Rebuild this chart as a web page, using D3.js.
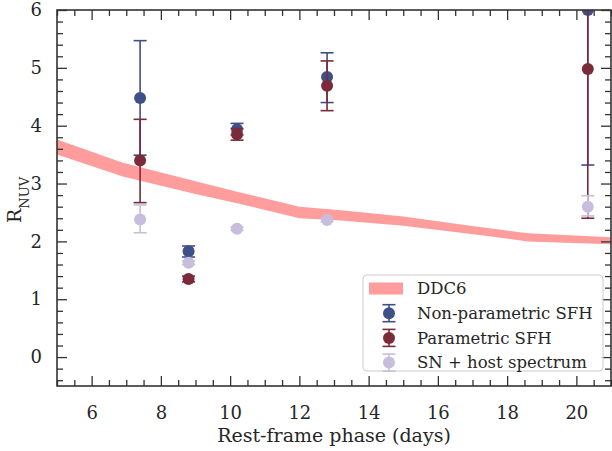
<!DOCTYPE html>
<html>
<head>
<meta charset="utf-8">
<script src="https://cdn.jsdelivr.net/npm/d3@7"></script>
<style>
  body { margin: 0; background: #fff; }
  svg { display: block; }
  text { font-family: "DejaVu Serif", "Liberation Serif", serif; fill: #262626; }
</style>
</head>
<body>
<svg id="chart"></svg>
<script>
// DDC6 model band (lower / upper edge)
var ddcPhase = [5, 6.9, 9.0, 10.2, 12.0, 13.2, 15.0, 17.2, 18.6, 21];
var ddcLow   = [3.50, 3.12, 2.82, 2.66, 2.40, 2.36, 2.27, 2.11, 2.00, 1.95];
var ddcHigh  = [3.76, 3.36, 3.04, 2.86, 2.60, 2.54, 2.43, 2.25, 2.14, 2.07];

// measured points
var phase      = [7.4, 8.8, 10.2, 12.8, 20.33];
var nonParam   = [4.48, 1.83, 3.94, 4.84, 6.00];
var nonParamLo = [3.49, 1.73, 3.84, 4.40, 3.32];
var nonParamHi = [5.47, 1.92, 4.04, 5.26, 8.68];
var param      = [3.40, 1.35, 3.85, 4.69, 4.98];
var paramLo    = [2.67, 1.30, 3.75, 4.26, 2.40];
var paramHi    = [4.11, 1.40, 3.95, 5.12, 7.56];
var snHost     = [2.38, 1.63, 2.22, 2.37, 2.60];
var snHostLo   = [2.15, 1.60, 2.19, 2.34, 2.44];
var snHostHi   = [2.63, 1.66, 2.25, 2.40, 2.79];

var seriesNames = ["Non-parametric SFH", "Parametric SFH", "SN + host spectrum"];
var bandName = "DDC6";

var xTicks = [6, 8, 10, 12, 14, 16, 18, 20];
var yTicks = [0, 1, 2, 3, 4, 5, 6];
var xLabel = "Rest-frame phase (days)";

var fontStack = '"DejaVu Serif", "Liberation Serif", serif';

function drawChart(id){
    var svgWidth = 612;
    var svgHeight = 451;
    var left = 57, right = 611, top = 10, bottom = 386;
    var colorArr = ["#3f5088", "#7a2a39", "#c8bddd"];
    var bandColor = "#ff9c9c";
    var axisColor = "#333333";

    var svg = d3.select(id)
        .attr("width", svgWidth)
        .attr("height", svgHeight);

    var x = d3.scaleLinear().domain([5, 21]).range([left, right]);
    var y = d3.scaleLinear().domain([-0.5, 6]).range([bottom, top]);

    svg.append("clipPath").attr("id", "plotclip")
        .append("rect")
        .attr("x", left).attr("y", top)
        .attr("width", right - left).attr("height", bottom - top);

    var plot = svg.append("g").attr("clip-path", "url(#plotclip)");

    // model band
    var band = ddcPhase.map(function(p, i){ return {p: p, lo: ddcLow[i], hi: ddcHigh[i]}; });
    plot.append("path")
        .datum(band)
        .attr("fill", bandColor)
        .attr("d", d3.area()
            .x(function(d){ return x(d.p); })
            .y0(function(d){ return y(d.lo); })
            .y1(function(d){ return y(d.hi); }));

    var series = [
        {v: nonParam, lo: nonParamLo, hi: nonParamHi},
        {v: param, lo: paramLo, hi: paramHi},
        {v: snHost, lo: snHostLo, hi: snHostHi}
    ];
    var cap = 6.5;

    series.forEach(function(s, k){
        var pts = phase.map(function(p, i){ return {p: p, v: s.v[i], lo: s.lo[i], hi: s.hi[i]}; });
        var g = plot.append("g")
            .attr("stroke", colorArr[k])
            .attr("stroke-width", 1.6);
        var eb = g.selectAll("g").data(pts).enter().append("g");
        eb.append("line")
            .attr("x1", function(d){ return x(d.p); })
            .attr("x2", function(d){ return x(d.p); })
            .attr("y1", function(d){ return y(d.lo); })
            .attr("y2", function(d){ return y(d.hi); });
        eb.append("line")
            .attr("x1", function(d){ return x(d.p) - cap; })
            .attr("x2", function(d){ return x(d.p) + cap; })
            .attr("y1", function(d){ return y(d.lo); })
            .attr("y2", function(d){ return y(d.lo); });
        eb.append("line")
            .attr("x1", function(d){ return x(d.p) - cap; })
            .attr("x2", function(d){ return x(d.p) + cap; })
            .attr("y1", function(d){ return y(d.hi); })
            .attr("y2", function(d){ return y(d.hi); });
        eb.append("circle")
            .attr("cx", function(d){ return x(d.p); })
            .attr("cy", function(d){ return y(d.v); })
            .attr("r", 6)
            .attr("stroke", "none")
            .attr("fill", colorArr[k]);
    });

    // axes, ticks pointing inward on all four sides
    var xMinor = d3.range(5, 21.01, 0.5).filter(function(t){ return t % 2 !== 0; });
    var yMinor = d3.range(-0.4, 6, 0.2).filter(function(t){ return Math.abs(t - Math.round(t)) > 0.01; });

    function styleAxis(g){
        g.select(".domain").remove();
        g.selectAll(".tick line").attr("stroke", axisColor).attr("stroke-width", 1.3);
        g.selectAll(".tick text")
            .attr("fill", "#262626")
            .attr("font-family", null)
            .style("font-family", fontStack)
            .style("font-size", "18px");
    }

    svg.append("g").attr("transform", "translate(0," + bottom + ")")
        .call(d3.axisBottom(x).tickValues(xTicks).tickSize(-10).tickPadding(20).tickFormat(d3.format("d")))
        .call(styleAxis);
    svg.append("g").attr("transform", "translate(0," + bottom + ")")
        .call(d3.axisBottom(x).tickValues(xMinor).tickSize(-6).tickFormat(""))
        .call(styleAxis);
    svg.append("g").attr("transform", "translate(0," + top + ")")
        .call(d3.axisTop(x).tickValues(xTicks).tickSize(-10).tickFormat(""))
        .call(styleAxis);
    svg.append("g").attr("transform", "translate(0," + top + ")")
        .call(d3.axisTop(x).tickValues(xMinor).tickSize(-6).tickFormat(""))
        .call(styleAxis);

    svg.append("g").attr("transform", "translate(" + left + ",0)")
        .call(d3.axisLeft(y).tickValues(yTicks).tickSize(-10).tickPadding(15).tickFormat(d3.format("d")))
        .call(styleAxis);
    svg.append("g").attr("transform", "translate(" + left + ",0)")
        .call(d3.axisLeft(y).tickValues(yMinor).tickSize(-6).tickFormat(""))
        .call(styleAxis);
    svg.append("g").attr("transform", "translate(" + right + ",0)")
        .call(d3.axisRight(y).tickValues(yTicks).tickSize(-10).tickFormat(""))
        .call(styleAxis);
    svg.append("g").attr("transform", "translate(" + right + ",0)")
        .call(d3.axisRight(y).tickValues(yMinor).tickSize(-6).tickFormat(""))
        .call(styleAxis);

    // frame
    svg.append("rect")
        .attr("x", left).attr("y", top)
        .attr("width", right - left).attr("height", bottom - top)
        .attr("fill", "none")
        .attr("stroke", axisColor)
        .attr("stroke-width", 1.6);

    // axis titles
    svg.append("text")
        .attr("x", (left + right) / 2)
        .attr("y", 442)
        .attr("text-anchor", "middle")
        .style("font-size", "19px")
        .text(xLabel);

    var yl = svg.append("text")
        .attr("transform", "translate(21,200) rotate(-90)")
        .attr("text-anchor", "middle")
        .style("font-size", "19px");
    yl.append("tspan").text("R");
    yl.append("tspan").attr("baseline-shift", "sub").style("font-size", "13px").text("NUV");

    // legend
    var lx = 363, ly = 275;
    var legend = svg.append("g");
    legend.append("rect")
        .attr("x", lx).attr("y", ly)
        .attr("width", 240).attr("height", 96)
        .attr("rx", 4)
        .attr("fill", "#fff").attr("fill-opacity", 0.8)
        .attr("stroke", "#cccccc").attr("stroke-width", 1);

    var rowY = function(i){ return ly + 13.5 + i * 24.7; };
    legend.append("rect")
        .attr("x", lx + 6).attr("y", rowY(0) - 6)
        .attr("width", 34).attr("height", 12)
        .attr("fill", bandColor);
    legend.append("text")
        .attr("x", lx + 54).attr("y", rowY(0))
        .attr("dy", "0.35em")
        .style("font-size", "16.5px")
        .text(bandName);

    seriesNames.forEach(function(name, i){
        var cy = rowY(i + 1), cx = lx + 26;
        var g = legend.append("g").attr("stroke", colorArr[i]).attr("stroke-width", 1.6);
        g.append("line").attr("x1", cx).attr("x2", cx).attr("y1", cy - 8.5).attr("y2", cy + 8.5);
        g.append("line").attr("x1", cx - cap).attr("x2", cx + cap).attr("y1", cy - 8.5).attr("y2", cy - 8.5);
        g.append("line").attr("x1", cx - cap).attr("x2", cx + cap).attr("y1", cy + 8.5).attr("y2", cy + 8.5);
        g.append("circle").attr("cx", cx).attr("cy", cy).attr("r", 6)
            .attr("stroke", "none").attr("fill", colorArr[i]);
        legend.append("text")
            .attr("x", lx + 54).attr("y", cy)
            .attr("dy", "0.35em")
            .style("font-size", "16.5px")
            .text(name);
    });
}

drawChart("#chart");
</script>
</body>
</html>
